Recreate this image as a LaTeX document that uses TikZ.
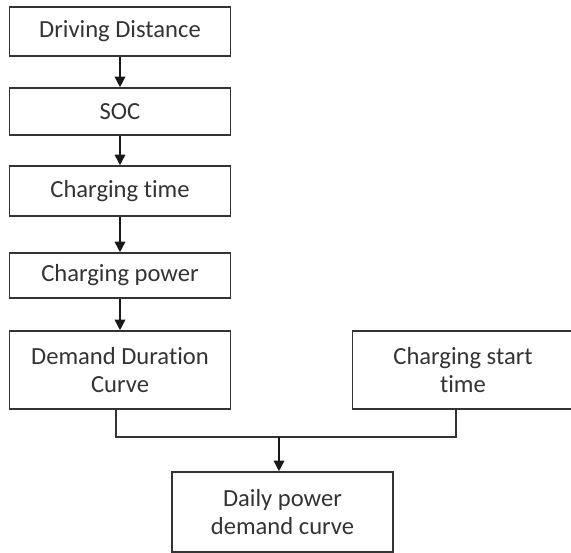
\documentclass[tikz,border=0pt]{standalone}
\usepackage{fontspec}
\setmainfont{Carlito}[Ligatures=NoCommon]
\usetikzlibrary{arrows.meta}

\tikzset{
  box/.style = {draw=black!80, line width=0.9pt, rectangle, align=center,
                text=black!80, font=\fontsize{14}{16}\selectfont,
                inner sep=0pt},
  flow/.style = {draw=black!90, line width=0.9pt,
                 -{Triangle[length=6pt,width=6pt]}},
  link/.style = {draw=black!80, line width=0.9pt}
}

\begin{document}
\begin{tikzpicture}
[
x = 0.02cm, y = -0.02cm
]
\useasboundingbox (0,0) rectangle (571,553);
% main chain on the left
\node [box, minimum width=4.42cm, minimum height=0.98cm] (dist) at (120,31.5) {Driving Distance};
\node [box, minimum width=4.42cm, minimum height=0.94cm] (soc) at (120,111.5) {SOC};
\node [box, minimum width=4.42cm, minimum height=1.0cm] (ctime) at (120,191) {Charging time};
\node [box, minimum width=4.42cm, minimum height=0.9cm] (cpower) at (120,275.5) {Charging power};
\node [box, minimum width=4.42cm, minimum height=1.56cm] (ddc) at (120,370) {Demand Duration\\Curve};
% start time and result
\node [box, minimum width=4.42cm, minimum height=1.56cm] (start) at (463,370) {Charging start\\time};
\node [box, minimum width=4.42cm, minimum height=1.6cm] (daily) at (282.5,512) {Daily power\\demand curve};
\coordinate (join) at (279,437);

\draw [flow] (dist) -- (soc);
\draw [flow] (soc) -- (ctime);
\draw [flow] (ctime) -- (cpower);
\draw [flow] (cpower) -- (ddc);
\draw [link] (116,409) |- (join) -| (456,409);
\draw [flow] (join) -- (join |- daily.north);
\end{tikzpicture}
\end{document}
